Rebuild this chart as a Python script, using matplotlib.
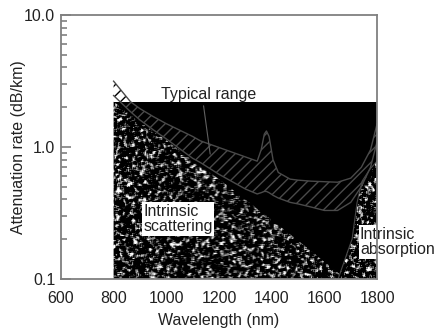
import matplotlib
matplotlib.use("Agg")
import matplotlib.pyplot as plt
import matplotlib.patches as mpatches
import numpy as np

plt.rcParams['font.family'] = ['Liberation Sans', 'DejaVu Sans']

# axis ticks
x_ticks = [600, 800, 1000, 1200, 1400, 1600, 1800]
y_ticks = [0.1, 1.0, 10.0]
y_tick_labels = ["0.1", "1.0", "10.0"]

# top of the black "background" zone
zone_wl = [800, 1800]
zone_top = 2.2

# intrinsic (Rayleigh) scattering boundary
scatter_wl = [800, 900, 1000, 1100, 1200, 1300, 1400, 1500, 1600, 1680]
scatter_att = [2.2, 1.55, 1.12, 0.80, 0.57, 0.40, 0.28, 0.195, 0.135, 0.1]

# intrinsic infrared absorption boundary
ir_wl = [1652, 1672, 1690, 1705, 1724, 1743, 1773, 1800]
ir_att = [0.1, 0.13, 0.165, 0.2, 0.38, 0.55, 0.68, 0.78]

# typical range band (lower / upper edge)
band_wl = [800, 864, 900, 950, 1000, 1100, 1130, 1200, 1300, 1345, 1360, 1372,
           1380, 1390, 1405, 1425, 1470, 1500, 1550, 1600, 1650, 1700, 1740,
           1775, 1800]
band_low = [2.45, 1.85, 1.6, 1.35, 1.15, 0.82, 0.76, 0.62, 0.48, 0.44, 0.45, 0.46,
            0.46, 0.45, 0.43, 0.41, 0.38, 0.37, 0.35, 0.33, 0.33, 0.38, 0.50,
            0.70, 1.1]
band_up = [3.15, 2.2, 1.95, 1.70, 1.50, 1.20, 1.11, 0.99, 0.84, 0.78, 0.95, 1.25,
           1.32, 1.2, 0.80, 0.64, 0.57, 0.56, 0.55, 0.545, 0.54, 0.58, 0.70,
           0.95, 1.5]

fig = plt.figure(figsize=(4.38, 3.32), dpi=100)
ax = fig.add_axes([0.139, 0.16, 0.722, 0.795])
ax.set_yscale('log')
ax.set_xlim(600, 1800)
ax.set_ylim(0.1, 10.0)

# black zone
ax.fill_between(zone_wl, 0.1, zone_top, color='black', linewidth=0, zorder=1)
zone_patch = mpatches.Rectangle((zone_wl[0], 0.1), zone_wl[1] - zone_wl[0],
                                zone_top - 0.1, transform=ax.transData,
                                facecolor='none', edgecolor='none')
ax.add_patch(zone_patch)

# speckle texture (decoration only, not data): smoothed noise, thresholded
rng = np.random.default_rng(7)
noise = rng.random((270, 322))
sm = np.zeros((264, 316))
for dy in range(3):
    for dx in range(3):
        sm += noise[dy:dy + 264, dx:dx + 316]
sm /= 9.0
speck = np.clip((sm - 0.51) * 5.0, 0, 1)

scat_poly = mpatches.Polygon([(800, 0.1)] + list(zip(scatter_wl, scatter_att)),
                             closed=True, transform=ax.transData,
                             facecolor='none', edgecolor='none')
ir_poly = mpatches.Polygon(list(zip(ir_wl, ir_att)) + [(1800, 0.1)],
                           closed=True, transform=ax.transData,
                           facecolor='none', edgecolor='none')
for poly in (scat_poly, ir_poly):
    ax.add_patch(poly)
    im = ax.imshow(speck, cmap='gray', extent=[0, 1, 0, 1], transform=ax.transAxes,
                   interpolation='antialiased', aspect='auto', zorder=2, vmin=0, vmax=1)
    im.set_clip_path(poly)

# typical range band: black hatch on white, grey hatch inside black zone
ax.fill_between(band_wl, band_low, band_up, facecolor='none', edgecolor='black',
                hatch='///', linewidth=0, zorder=3)
inner = ax.fill_between(band_wl, band_low, band_up, facecolor='black',
                        edgecolor='#4a4a4a', hatch='///', linewidth=0, zorder=3.5)
inner.set_clip_path(zone_patch)
ax.plot(band_wl, band_up, color='#4a4a4a', lw=1.0, zorder=4)
ax.plot(band_wl, band_low, color='#4a4a4a', lw=1.0, zorder=4)
ax.plot(ir_wl, ir_att, color='#4a4a4a', lw=0.8, zorder=4)

# labels
ax.annotate("", xy=(1168, 0.84), xytext=(1140, 2.15),
            arrowprops=dict(arrowstyle='-', color='#606060', lw=0.8), zorder=5)
ax.text(1160, 2.32, "Typical range", ha='center', va='baseline',
        fontsize=11.5, color='#222222', zorder=6)
ax.text(912, 0.285, "Intrinsic\nscattering", ha='left', va='center',
        fontsize=11.5, color='#222222', linespacing=1.05, zorder=6,
        bbox=dict(facecolor='white', edgecolor='none', pad=1.0))
ax.text(1735, 0.19, "Intrinsic\nabsorption", ha='left', va='center',
        fontsize=11.5, color='#222222', linespacing=1.05, zorder=6,
        clip_on=False,
        bbox=dict(facecolor='white', edgecolor='none', pad=1.0))

ax.set_xticks(x_ticks)
ax.set_yticks(y_ticks)
ax.set_yticklabels(y_tick_labels)
ax.tick_params(axis='x', length=0, labelsize=11.5, labelcolor='#222222', pad=9)
ax.tick_params(axis='y', which='major', direction='in', length=7, width=1.2,
               color='#808080', labelsize=11.5, labelcolor='#222222', pad=4)
ax.tick_params(axis='y', which='minor', direction='in', length=4.5, width=1.2,
               color='#808080', labelleft=False)
for s in ax.spines.values():
    s.set_color('#808080')
    s.set_linewidth(1.3)
    s.set_zorder(7)

ax.set_xlabel("Wavelength (nm)", fontsize=11.5, color='#222222', labelpad=5)
ax.set_ylabel("Attenuation rate (dB/km)", fontsize=11.5, color='#222222')
ax.yaxis.set_label_coords(-0.11, 0.5)

fig.savefig("out.png", dpi=100)
